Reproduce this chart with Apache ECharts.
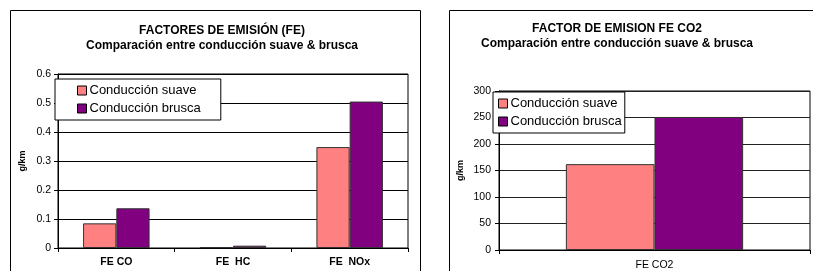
<!DOCTYPE html>
<html>
<head>
<meta charset="utf-8">
<script src="https://cdn.jsdelivr.net/npm/echarts@6/dist/echarts.min.js"></script>
<style>
  html, body { margin: 0; padding: 0; background: #fff; }
  #main { width: 813px; height: 271px; }
</style>
</head>
<body>
<div id="main"></div>
<script>
    // datos
    var seriesNames = ['Conducción suave', 'Conducción brusca'];
    var feCats = ['FE CO', 'FE  HC', 'FE  NOx'];
    var feSuave = [0.085, 0.003, 0.348];
    var feBrusca = [0.137, 0.008, 0.505];
    var co2Cats = ['FE CO2'];
    var co2Suave = [162];
    var co2Brusca = [251];

    var colSuave = '#FF8080';
    var colBrusca = '#800080';
    var fontFam = 'Arial, "Liberation Sans", sans-serif';

    var chart = echarts.init(document.getElementById('main'));

    function legendBox(left, top, pad) {
        return {
            orient: 'vertical',
            left: left,
            top: top,
            data: seriesNames,
            icon: 'rect',
            itemWidth: 9,
            itemHeight: 9,
            itemGap: 5,
            padding: pad,
            backgroundColor: '#fff',
            borderColor: '#000',
            borderWidth: 1,
            borderRadius: 0,
            itemStyle: { borderColor: '#000', borderWidth: 1 },
            textStyle: { fontFamily: fontFam, fontSize: 13, color: '#000', padding: [0, 0, 0, -2] }
        };
    }

    chart.setOption({
        animation: false,
        textStyle: { fontFamily: fontFam },
        title: [{
            text: 'FACTORES DE EMISIÓN (FE)',
            subtext: 'Comparación entre conducción suave & brusca',
            left: 217,
            top: 20,
            textAlign: 'center',
            itemGap: 3,
            textStyle: { fontSize: 12, fontWeight: 'bold', color: '#000' },
            subtextStyle: { fontSize: 12, fontWeight: 'bold', color: '#000' }
        }, {
            text: 'FACTOR DE EMISION FE CO2',
            subtext: 'Comparación entre conducción suave & brusca',
            left: 612,
            top: 18,
            textAlign: 'center',
            itemGap: 3,
            textStyle: { fontSize: 12, fontWeight: 'bold', color: '#000' },
            subtextStyle: { fontSize: 12, fontWeight: 'bold', color: '#000' }
        }],
        legend: [legendBox(55, 79, [5, 20, 5, 22]), legendBox(493, 92, [5, 3, 5, 5])],
        graphic: [
            { type: 'rect', shape: { x: 10.5, y: 10.5, width: 410, height: 280 }, style: { fill: null, stroke: '#000', lineWidth: 1 }, z: -1 },
            { type: 'rect', shape: { x: 449.5, y: 10.5, width: 380, height: 280 }, style: { fill: null, stroke: '#000', lineWidth: 1 }, z: -1 }
        ],
        grid: [
            { left: 58, right: 405, top: 74, bottom: 23, show: true, borderColor: '#000', borderWidth: 1 },
            { left: 499, right: 3, top: 91, bottom: 19, show: true, borderColor: '#000', borderWidth: 1 }
        ],
        xAxis: [{
            type: 'category', gridIndex: 0, data: feCats,
            axisLine: { lineStyle: { color: '#000' } },
            axisTick: { show: true, length: 4, lineStyle: { color: '#000' } },
            axisLabel: { color: '#000', fontSize: 10.5, fontWeight: 'bold', margin: 9 }
        }, {
            type: 'category', gridIndex: 1, data: co2Cats,
            axisLine: { lineStyle: { color: '#000' } },
            axisTick: { show: true, length: 4, lineStyle: { color: '#000' } },
            axisLabel: { color: '#000', fontSize: 10.5, margin: 10 }
        }],
        yAxis: [{
            type: 'value', gridIndex: 0, min: 0, max: 0.6, interval: 0.1,
            name: 'g/km', nameLocation: 'middle', nameGap: 31, nameRotate: 90,
            nameTextStyle: { fontSize: 9, fontWeight: 'bold', color: '#000' },
            axisLine: { show: true, lineStyle: { color: '#000' } },
            axisTick: { show: true, length: 4, lineStyle: { color: '#000' } },
            axisLabel: { color: '#000', fontSize: 10.5, margin: 7 },
            splitLine: { show: true, lineStyle: { color: '#000', width: 1 } }
        }, {
            type: 'value', gridIndex: 1, min: 0, max: 300, interval: 50,
            name: 'g/km', nameLocation: 'middle', nameGap: 34, nameRotate: 90,
            nameTextStyle: { fontSize: 9, fontWeight: 'bold', color: '#000' },
            axisLine: { show: true, lineStyle: { color: '#000' } },
            axisTick: { show: true, length: 4, lineStyle: { color: '#000' } },
            axisLabel: { color: '#000', fontSize: 10.5, margin: 8 },
            splitLine: { show: true, lineStyle: { color: '#222', width: 1 } }
        }],
        series: [{
            name: seriesNames[0], type: 'bar', xAxisIndex: 0, yAxisIndex: 0,
            data: feSuave, barGap: '0%', barCategoryGap: '43%',
            itemStyle: { color: colSuave, borderColor: '#333', borderWidth: 1 }
        }, {
            name: seriesNames[1], type: 'bar', xAxisIndex: 0, yAxisIndex: 0,
            data: feBrusca, barGap: '0%', barCategoryGap: '43%',
            itemStyle: { color: colBrusca, borderColor: '#333', borderWidth: 1 }
        }, {
            name: seriesNames[0], type: 'bar', xAxisIndex: 1, yAxisIndex: 1,
            data: co2Suave, barGap: '0%', barCategoryGap: '43%',
            itemStyle: { color: colSuave, borderColor: '#333', borderWidth: 1 }
        }, {
            name: seriesNames[1], type: 'bar', xAxisIndex: 1, yAxisIndex: 1,
            data: co2Brusca, barGap: '0%', barCategoryGap: '43%',
            itemStyle: { color: colBrusca, borderColor: '#333', borderWidth: 1 }
        }]
    });
</script>
</body>
</html>
